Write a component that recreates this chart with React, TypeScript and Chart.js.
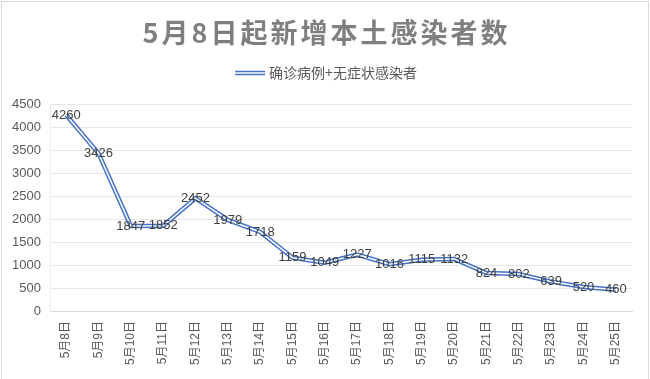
import React, { useEffect, useRef } from "react";
import { Chart, registerables } from "chart.js";

Chart.register(...registerables);

const categories = [
  "5月8日", "5月9日", "5月10日", "5月11日", "5月12日", "5月13日",
  "5月14日", "5月15日", "5月16日", "5月17日", "5月18日", "5月19日",
  "5月20日", "5月21日", "5月22日", "5月23日", "5月24日", "5月25日",
];
const values = [
  4260, 3426, 1847, 1852, 2452, 1979, 1718, 1159, 1049, 1227, 1016, 1115,
  1132, 824, 802, 639, 520, 460,
];
const yMin = 0;
const yMax = 4500;
const yStep = 500;
const chartTitle = "5月8日起新增本土感染者数";
const seriesName = "确诊病例+无症状感染者";

const FONT = '"Liberation Sans", "Noto Sans CJK SC", sans-serif';
const BLUE = "#4472C4";

const decorPlugin = {
  id: "decor",
  beforeDraw(chart: any) {
    const { ctx, width, height } = chart;
    ctx.save();
    ctx.fillStyle = "#ffffff";
    ctx.fillRect(0, 0, width, height);
    ctx.strokeStyle = "#d9d9d9";
    ctx.lineWidth = 1;
    ctx.strokeRect(1.5, 1.5, width - 3, height + 5);
    ctx.restore();
  },
  afterDraw(chart: any) {
    const { ctx, width } = chart;
    ctx.save();
    // title
    ctx.font = 'bold 27px "Noto Sans CJK SC", "Liberation Sans", sans-serif';
    ctx.fillStyle = "#7f7f7f";
    ctx.textBaseline = "middle";
    ctx.textAlign = "center";
    try { (ctx as any).letterSpacing = "3px"; } catch (e) {}
    ctx.fillText(chartTitle, width / 2 + 1.5, 33);
    try { (ctx as any).letterSpacing = "0px"; } catch (e) {}
    // legend
    ctx.font = '14px "Noto Sans CJK SC", sans-serif';
    const tw = ctx.measureText(seriesName).width;
    const sw = 30;
    const gap = 4;
    const total = sw + gap + tw;
    const x0 = width / 2 + 1 - total / 2;
    const ly = 73;
    ctx.lineCap = "butt";
    ctx.strokeStyle = BLUE;
    ctx.lineWidth = 4.5;
    ctx.beginPath();
    ctx.moveTo(x0, ly);
    ctx.lineTo(x0 + sw, ly);
    ctx.stroke();
    ctx.strokeStyle = "#ffffff";
    ctx.lineWidth = 1.5;
    ctx.beginPath();
    ctx.moveTo(x0, ly);
    ctx.lineTo(x0 + sw, ly);
    ctx.stroke();
    ctx.fillStyle = "#595959";
    ctx.textAlign = "left";
    ctx.textBaseline = "middle";
    ctx.fillText(seriesName, x0 + sw + gap, ly);
    ctx.restore();
  },
  afterDatasetsDraw(chart: any) {
    const { ctx } = chart;
    const meta = chart.getDatasetMeta(0);
    ctx.save();
    ctx.font = `13px ${FONT}`;
    ctx.fillStyle = "#404040";
    ctx.textAlign = "center";
    ctx.textBaseline = "middle";
    meta.data.forEach((pt: any, i: number) => {
      ctx.fillText(String(values[i]), pt.x, pt.y);
    });
    ctx.restore();
  },
};

export default function App() {
  const ref = useRef<HTMLCanvasElement>(null);
  useEffect(() => {
    if (!ref.current) return;
    const chart = new Chart(ref.current, {
      type: "line",
      data: {
        labels: categories,
        datasets: [
          {
            label: seriesName,
            data: values,
            borderColor: BLUE,
            borderWidth: 4.5,
            pointRadius: 0,
            tension: 0,
            fill: false,
            order: 2,
          },
          {
            label: "inner",
            data: values,
            borderColor: "#ffffff",
            borderWidth: 1.5,
            pointRadius: 0,
            tension: 0,
            fill: false,
            order: 1,
          },
        ],
      },
      options: {
        responsive: false,
        animation: false,
        devicePixelRatio: 1,
        layout: { padding: { top: 104, right: 18, bottom: 0, left: 0 } },
        plugins: {
          legend: { display: false },
          title: { display: false },
          tooltip: { enabled: false },
        },
        scales: {
          x: {
            offset: true,
            grid: { display: false, drawTicks: false },
            border: { display: true, color: "#d9d9d9", width: 1 },
            ticks: {
              autoSkip: false,
              maxRotation: 90,
              minRotation: 90,
              padding: 10,
              color: "#595959",
              font: { size: 12, family: FONT },
            },
            afterFit(scale: any) {
              scale.height = 68;
            },
          },
          y: {
            min: yMin,
            max: yMax,
            ticks: {
              stepSize: yStep,
              padding: 9,
              color: "#595959",
              font: { size: 13, family: FONT },
              callback: (v: any) => String(v),
            },
            grid: { color: "#e6e6e6", drawTicks: false },
            border: { display: true, color: "#ececec", width: 1 },
            afterFit(scale: any) {
              scale.width = 50;
            },
          },
        },
      },
      plugins: [decorPlugin],
    });
    return () => chart.destroy();
  }, []);
  return (
    <div style={{ position: "fixed", left: 0, top: 0, width: 650, height: 379, background: "#fff" }}>
      <canvas ref={ref} width={650} height={379} style={{ width: 650, height: 379, display: "block" }} />
    </div>
  );
}
